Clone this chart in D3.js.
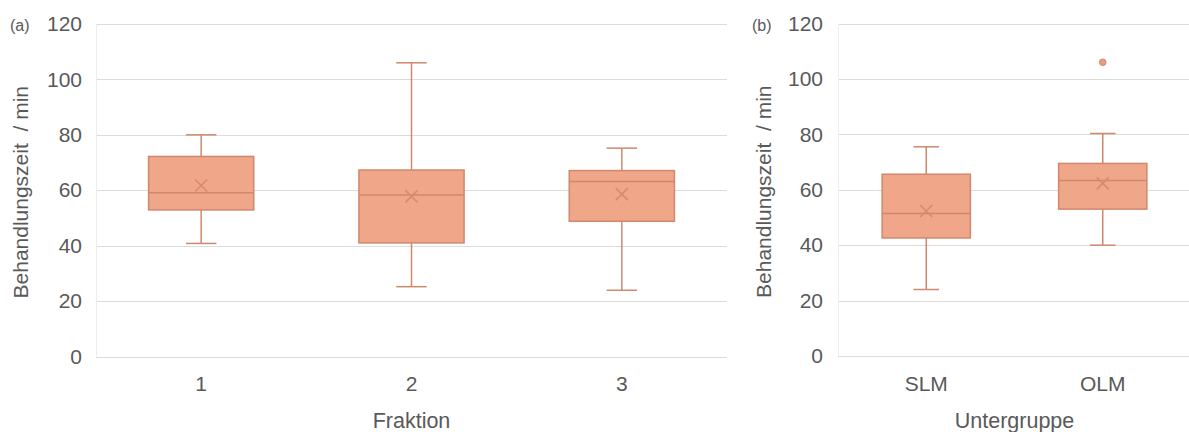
<!DOCTYPE html>
<html>
<head>
<meta charset="utf-8">
<script src="https://cdn.jsdelivr.net/npm/d3@7"></script>
<style>
  html, body { margin: 0; padding: 0; background: #ffffff; }
  svg { display: block; }
  text { font-family: "Liberation Sans", Arial, sans-serif; fill: #595959; white-space: pre; }
</style>
</head>
<body>
<svg id="chart" width="1189" height="432"></svg>
<script>
// Panel (a): treatment time per fraction
const fraktionCats   = ["1", "2", "3"];
const fraktionMin    = [40.8, 25.2, 23.9];
const fraktionQ1     = [52.9, 41.0, 48.8];
const fraktionMedian = [59.1, 58.3, 63.2];
const fraktionQ3     = [72.2, 67.3, 67.1];
const fraktionMax    = [80.0, 106.0, 75.2];
const fraktionMean   = [61.7, 57.8, 58.6];
const fraktionOutliers = [[], [], []];

// Panel (b): treatment time per subgroup
const gruppeCats   = ["SLM", "OLM"];
const gruppeMin    = [24.0, 40.0];
const gruppeQ1     = [42.6, 53.0];
const gruppeMedian = [51.4, 63.3];
const gruppeQ3     = [65.6, 69.5];
const gruppeMax    = [75.5, 80.3];
const gruppeMean   = [52.3, 62.3];
const gruppeOutliers = [[], [106.0]];

const yTicks = [0, 20, 40, 60, 80, 100, 120];
const yTitle = "Behandlungszeit  / min";

const fillColor = "#F0A688";
const strokeColor = "#D0886D";
const gridColor = "#DCDCDC";

const svg = d3.select("#chart");

function drawPanel(cfg) {
  const g = svg.append("g");
  const x = d3.scaleBand().domain(cfg.cats).range([cfg.left, cfg.right]).padding(0);
  const y = d3.scaleLinear().domain([0, 120]).range([cfg.bottom, cfg.top]);

  // horizontal gridlines
  g.append("g").selectAll("line").data(yTicks).join("line")
    .attr("x1", cfg.left).attr("x2", cfg.right)
    .attr("y1", d => Math.round(y(d)) + 0.5).attr("y2", d => Math.round(y(d)) + 0.5)
    .attr("stroke", gridColor).attr("stroke-width", 1.2);

  // left axis line
  g.append("line")
    .attr("x1", cfg.left + 0.5).attr("x2", cfg.left + 0.5)
    .attr("y1", y(120)).attr("y2", y(0))
    .attr("stroke", "#EDEDED").attr("stroke-width", 1);

  // y tick labels
  const yAxis = d3.axisLeft(y).tickValues(yTicks).tickSize(0).tickPadding(0);
  const ya = g.append("g").attr("transform", `translate(${cfg.tickRight},0)`).call(yAxis);
  ya.select(".domain").remove();
  ya.selectAll("text")
    .attr("font-size", 21).attr("fill", "#595959")
    .attr("font-family", "Liberation Sans, Arial, sans-serif");

  // x tick labels
  const xAxis = d3.axisBottom(x).tickSize(0).tickPadding(0);
  const xa = g.append("g").attr("transform", `translate(0,${cfg.xLabelY})`).call(xAxis);
  xa.select(".domain").remove();
  xa.selectAll("text")
    .attr("dy", 0).attr("y", 0)
    .attr("font-size", 21).attr("fill", "#595959")
    .attr("font-family", "Liberation Sans, Arial, sans-serif");

  // axis titles
  g.append("text")
    .attr("transform", `translate(${cfg.yTitleX},${(cfg.top + cfg.bottom) / 2 + 2}) rotate(-90)`)
    .attr("text-anchor", "middle").attr("dominant-baseline", "central")
    .attr("font-size", 21).text(yTitle);
  g.append("text")
    .attr("x", (cfg.left + cfg.right) / 2).attr("y", cfg.xTitleY)
    .attr("text-anchor", "middle").attr("font-size", 21.5).text(cfg.xTitle);

  // panel letter
  g.append("text").attr("x", cfg.letterX).attr("y", 31)
    .attr("font-size", 16).attr("fill", "#333333").text(cfg.letter);

  // boxes
  const bw = x.bandwidth() * 0.5;
  const cw = bw * 0.29;
  const data = cfg.cats.map((c, i) => ({
    c, min: cfg.min[i], q1: cfg.q1[i], med: cfg.median[i], q3: cfg.q3[i],
    max: cfg.max[i], mean: cfg.mean[i], out: cfg.outliers[i]
  }));

  const bx = g.append("g").selectAll("g").data(data).join("g")
    .attr("transform", d => `translate(${x(d.c) + x.bandwidth() / 2},0)`);

  // whiskers
  bx.append("line").attr("x1", 0).attr("x2", 0)
    .attr("y1", d => y(d.max)).attr("y2", d => y(d.q3))
    .attr("stroke", strokeColor).attr("stroke-width", 1.5);
  bx.append("line").attr("x1", 0).attr("x2", 0)
    .attr("y1", d => y(d.q1)).attr("y2", d => y(d.min))
    .attr("stroke", strokeColor).attr("stroke-width", 1.5);
  bx.append("line").attr("x1", -cw / 2).attr("x2", cw / 2)
    .attr("y1", d => y(d.max)).attr("y2", d => y(d.max))
    .attr("stroke", strokeColor).attr("stroke-width", 1.5);
  bx.append("line").attr("x1", -cw / 2).attr("x2", cw / 2)
    .attr("y1", d => y(d.min)).attr("y2", d => y(d.min))
    .attr("stroke", strokeColor).attr("stroke-width", 1.5);

  // box
  bx.append("rect")
    .attr("x", -bw / 2).attr("width", bw)
    .attr("y", d => y(d.q3)).attr("height", d => y(d.q1) - y(d.q3))
    .attr("fill", fillColor).attr("stroke", strokeColor).attr("stroke-width", 1.5);

  // median
  bx.append("line").attr("x1", -bw / 2).attr("x2", bw / 2)
    .attr("y1", d => y(d.med)).attr("y2", d => y(d.med))
    .attr("stroke", strokeColor).attr("stroke-width", 1.5);

  // mean marker
  const m = 6;
  bx.append("path")
    .attr("d", d => `M${-m},${y(d.mean) - m}L${m},${y(d.mean) + m}M${-m},${y(d.mean) + m}L${m},${y(d.mean) - m}`)
    .attr("stroke", "#D98A6D").attr("stroke-width", 1.5).attr("fill", "none");

  // outliers
  bx.selectAll("circle").data(d => d.out).join("circle")
    .attr("cx", 0).attr("cy", v => y(v)).attr("r", 3.3)
    .attr("fill", "#EB9C7E").attr("stroke", "#D0886D").attr("stroke-width", 1);
}

drawPanel({
  cats: fraktionCats, min: fraktionMin, q1: fraktionQ1, median: fraktionMedian,
  q3: fraktionQ3, max: fraktionMax, mean: fraktionMean, outliers: fraktionOutliers,
  left: 96, right: 727, top: 24, bottom: 356.5,
  tickRight: 82, yTitleX: 20, xLabelY: 391, xTitleY: 428, xTitle: "Fraktion",
  letter: "(a)", letterX: 10
});

drawPanel({
  cats: gruppeCats, min: gruppeMin, q1: gruppeQ1, median: gruppeMedian,
  q3: gruppeQ3, max: gruppeMax, mean: gruppeMean, outliers: gruppeOutliers,
  left: 838, right: 1191, top: 23.5, bottom: 356,
  tickRight: 823, yTitleX: 763, xLabelY: 391, xTitleY: 428, xTitle: "Untergruppe",
  letter: "(b)", letterX: 752
});
</script>
</body>
</html>
